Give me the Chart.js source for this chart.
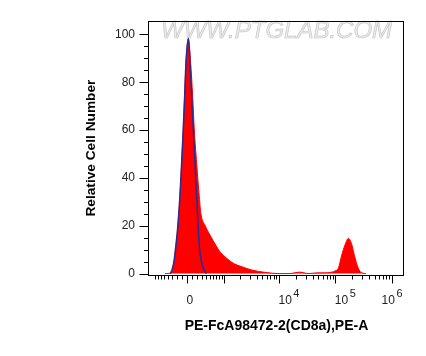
<!DOCTYPE html>
<html><head><meta charset="utf-8">
<script src="https://cdn.jsdelivr.net/npm/chart.js@4/dist/chart.umd.min.js"></script>
<style>html,body{margin:0;padding:0;background:#fff}#wrap{width:426px;height:356px;position:relative}</style>
</head><body><div id="wrap"><canvas id="c" width="426" height="356"></canvas></div>
<script>
// PE-A intensity (raw) and relative counts, sample (red) and isotype control (blue)
const sampleIntensity = [-477,-310,-259,-216,-181,-135,-102,-71,-44,-19,
  25,71,109,141,189,244,281,374,505,680,
  836,1133,1510,2153,3262,5637,9600,15690,20070,23600,
  27830,32780,41900,53540,68430,87430,98860,113200,130000,148900,
  170300,194200,217800,256600,295000,351300];
const sampleCounts = [0,0.4,4.5,11.4,18.3,32,46,60,74,87.8,
  98,87.8,74,60,46,32,24.8,20.2,16.1,11.9,
  9.1,6.4,4.3,2.9,1.5,0.5,0,0,0.4,0.6,
  0.3,0,0.2,0.3,0.3,0.6,1.1,2.2,7.7,12,
  14.7,12.5,7.7,2.2,0.3,0];
const isoIntensity = [-338,-303,-259,-216,-181,-135,-102,-71,-44,-19,28,57,90,121,155,189,223,244,297,374,416];
const isoCounts = [0,1.5,5,12,19,32.5,46,60,74,88,98.3,87.8,74,60,46,32,18.3,11.4,4.5,0.8,0];

// axis ticks
const xLabelTickValues = [0, 1e4, 1e5, 1e6];
const xLabelBase = ['0', '10', '10', '10'];
const xLabelExp = ['', '4', '5', '6'];
const xMajorTickValues = [0, 1e3, 1e4, 1e5, 1e6];
const xMinorTickValues = [-800,-700,-600,-500,-400,-300,-200,-100,100,200,300,400,500,600,700,800,900,
  2e3,3e3,4e3,5e3,6e3,7e3,8e3,9e3,2e4,3e4,4e4,5e4,6e4,7e4,8e4,9e4,2e5,3e5,4e5,5e5,6e5,7e5,8e5,9e5];
const yMajorTickValues = [0,20,40,60,80,100];
const yMinorTickValues = [5,10,15,25,30,35,45,50,55,65,70,75,85,90,95];
const xRange = [-1050, 1.66e6];
const yRange = [-0.6, 105.5];

const xTitle = 'PE-FcA98472-2(CD8a),PE-A';
const yTitle = 'Relative Cell Number';
const watermark = 'WWW.PTGLAB.COM';

// biexponential-like (asinh) display transform
const W = 465;
const T = v => Math.asinh(v / W) / Math.LN10;

const FONT = '"Liberation Sans", Arial, Helvetica, sans-serif';

const framePlugin = {
  id: 'frame',
  beforeDatasetsDraw(chart) {
    const {ctx} = chart;
    ctx.save();
    ctx.font = 'italic 24px ' + FONT;
    ctx.textBaseline = 'alphabetic';
    ctx.fillStyle = '#ececec';
    ctx.strokeStyle = '#c8c8c8';
    ctx.lineWidth = 0.7;
    ctx.fillText(watermark, 161, 38);
    ctx.strokeText(watermark, 161, 38);
    ctx.restore();
  },
  afterDraw(chart) {
    const {ctx, chartArea: a, scales} = chart;
    const xs = scales.x, ys = scales.y;
    ctx.save();
    ctx.strokeStyle = '#000';
    ctx.lineWidth = 1;
    ctx.strokeRect(Math.round(a.left) - 0.5, Math.round(a.top) + 0.5,
      Math.round(a.right - a.left), Math.round(a.bottom - a.top));
    ctx.beginPath();
    const L = Math.round(a.left) - 0.5;
    yMajorTickValues.forEach(v => { const y = Math.round(ys.getPixelForValue(v)) + 0.5; ctx.moveTo(L - 9, y); ctx.lineTo(L, y); });
    yMinorTickValues.forEach(v => { const y = Math.round(ys.getPixelForValue(v)) + 0.5; ctx.moveTo(L - 4.5, y); ctx.lineTo(L, y); });
    const B = Math.round(a.bottom) + 0.5;
    xMajorTickValues.forEach(v => { const x = Math.round(xs.getPixelForValue(T(v))) + 0.5; ctx.moveTo(x, B); ctx.lineTo(x, B + 8); });
    xMinorTickValues.forEach(v => { const x = Math.round(xs.getPixelForValue(T(v))) + 0.5; ctx.moveTo(x, B); ctx.lineTo(x, B + 4); });
    ctx.stroke();
    // x tick labels: left-aligned at the tick, kept inside the plot's right edge
    ctx.fillStyle = '#222';
    ctx.textBaseline = 'alphabetic';
    ctx.textAlign = 'left';
    const baseFont = '12px ' + FONT, expFont = '11px ' + FONT;
    xLabelTickValues.forEach((v, i) => {
      ctx.font = baseFont;
      const wb = ctx.measureText(xLabelBase[i]).width;
      ctx.font = expFont;
      const we = xLabelExp[i] ? ctx.measureText(xLabelExp[i]).width + 1.5 : 0;
      let x = xs.getPixelForValue(T(v)) - 0.5;
      if (x + wb + we > a.right - 1.5) x = a.right - 1.5 - wb - we;
      ctx.font = baseFont;
      ctx.fillText(xLabelBase[i], x, 303.5);
      if (xLabelExp[i]) {
        ctx.font = expFont;
        ctx.fillText(xLabelExp[i], x + wb + 1.5, 296.5);
      }
    });
    ctx.restore();
  }
};

new Chart(document.getElementById('c'), {
  type: 'line',
  data: {
    datasets: [
      {
        label: 'Isotype',
        data: isoIntensity.map((v, i) => ({x: T(v), y: isoCounts[i]})),
        borderColor: '#2f2a8c',
        borderWidth: 1.6,
        fill: false,
        pointRadius: 0,
        cubicInterpolationMode: 'monotone',
        order: 0
      },
      {
        label: 'Sample',
        data: sampleIntensity.map((v, i) => ({x: T(v), y: sampleCounts[i]})),
        borderColor: '#ff0000',
        backgroundColor: '#ff0000',
        borderWidth: 1,
        fill: 'origin',
        pointRadius: 0,
        cubicInterpolationMode: 'monotone',
        order: 1
      }
    ]
  },
  options: {
    responsive: false,
    animation: false,
    devicePixelRatio: 1,
    layout: {padding: {top: 20, right: 22, left: 0, bottom: 0}},
    plugins: {legend: {display: false}, tooltip: {enabled: false}},
    scales: {
      x: {
        type: 'linear',
        min: T(xRange[0]),
        max: T(xRange[1]),
        grid: {display: false, drawTicks: false},
        border: {display: false},
        afterBuildTicks: s => { s.ticks = xLabelTickValues.map(v => ({value: T(v)})); },
        afterFit: s => { s.height = 81; },
        ticks: {display: false},
        title: {display: true, text: xTitle, color: '#000',
          font: {family: FONT, size: 14, weight: 'bold'}, padding: {top: 0, bottom: 21}}
      },
      y: {
        type: 'linear',
        min: yRange[0],
        max: yRange[1],
        grid: {display: false, drawTicks: false},
        border: {display: false},
        afterBuildTicks: s => { s.ticks = yMajorTickValues.map(v => ({value: v})); },
        afterFit: s => { s.width = 149; },
        ticks: {
          padding: 14, color: '#222', font: {family: FONT, size: 12},
          callback: v => String(v)
        },
        title: {display: true, text: yTitle, color: '#000',
          font: {family: FONT, size: 13.7, weight: 'bold'}, padding: {top: 83, bottom: 0}}
      }
    }
  },
  plugins: [framePlugin]
});
</script>
</body></html>
